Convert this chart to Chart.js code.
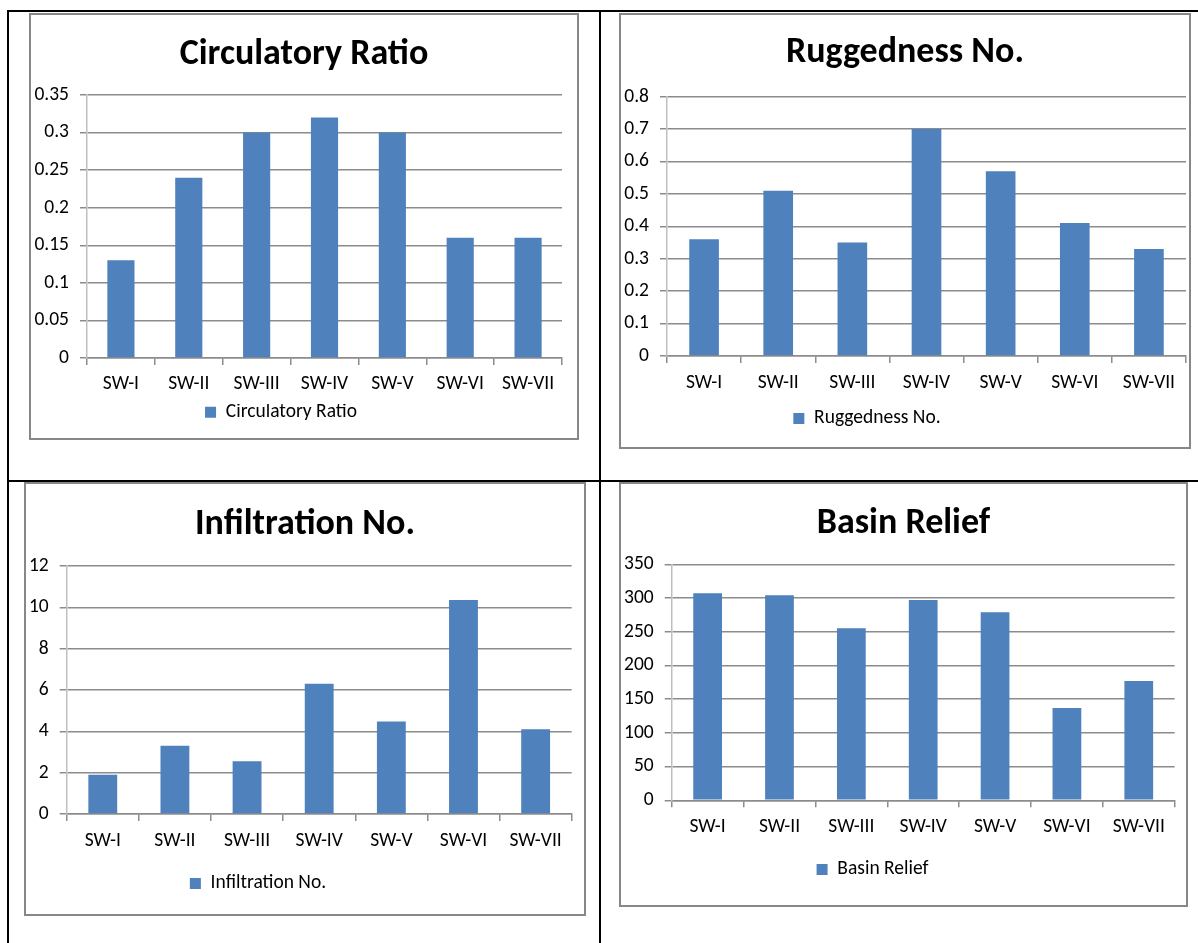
<!DOCTYPE html>
<html lang="en">
<head>
<meta charset="UTF-8">
<title>Sub-watershed Morphometric Parameters</title>
<script src="https://cdn.jsdelivr.net/npm/chart.js"></script>
<style>
  * { margin: 0; padding: 0; box-sizing: border-box; }
  body { width: 1198px; height: 943px; background: #fff; position: relative; overflow: hidden; }
  .rule { position: absolute; background: #000; }
  .box { position: absolute; border: 2px solid #878787; background: #fff; }
  .box canvas { display: block; }
</style>
</head>
<body>
<div class="rule" style="left:7px; top:10px; width:1191px; height:2px;"></div>
<div class="rule" style="left:7px; top:10px; width:2px; height:933px;"></div>
<div class="rule" style="left:599px; top:10px; width:2px; height:933px;"></div>
<div class="rule" style="left:7px; top:480px; width:1191px; height:2px;"></div>

<div class="box" style="left:29px; top:13px; width:550px; height:427px;"><canvas id="circChart"></canvas></div>
<div class="box" style="left:619px; top:13px; width:572px; height:436px;"><canvas id="ruggChart"></canvas></div>
<div class="box" style="left:24px; top:482px; width:562px; height:434px;"><canvas id="infilChart"></canvas></div>
<div class="box" style="left:619px; top:482px; width:569px; height:425px;"><canvas id="reliefChart"></canvas></div>

<script>
    const categories = ['SW-I', 'SW-II', 'SW-III', 'SW-IV', 'SW-V', 'SW-VI', 'SW-VII'];

    const circulatoryRatio = [0.13, 0.24, 0.30, 0.32, 0.30, 0.16, 0.16];
    const ruggednessNo = [0.36, 0.51, 0.35, 0.70, 0.57, 0.41, 0.33];
    const infiltrationNo = [1.9, 3.3, 2.55, 6.3, 4.47, 10.35, 4.1];
    const basinRelief = [307, 304, 255, 297, 279, 137, 177];

    const circulatoryTicks = ['0', '0.05', '0.1', '0.15', '0.2', '0.25', '0.3', '0.35'];
    const ruggednessTicks = ['0', '0.1', '0.2', '0.3', '0.4', '0.5', '0.6', '0.7', '0.8'];
    const infiltrationTicks = ['0', '2', '4', '6', '8', '10', '12'];
    const reliefTicks = ['0', '50', '100', '150', '200', '250', '300', '350'];

    const fontFamily = 'Carlito, Lato, "Open Sans", sans-serif';
    const gridColor = '#8c8c8c';

    // title centred on the whole box, legend moved sideways like in Excel
    const boxShift = {
        id: 'boxShift',
        afterLayout(chart, args, opts) {
            chart.titleBlock.left = 0;
            chart.titleBlock.right = chart.width;
            chart.legend.left = opts.legendDx;
            chart.legend.right = chart.width + opts.legendDx;
        }
    };

    function drawBarChart(id, titleText, values, tickLabels, g) {
        let canvas = document.getElementById(id);
        canvas.width = canvas.parentElement.clientWidth;
        canvas.height = canvas.parentElement.clientHeight;
        let tickFont = { family: fontFamily, size: 19.5, lineHeight: 1 };

        return new Chart(canvas, {
            type: 'bar',
            data: {
                labels: categories,
                datasets: [{
                    label: titleText,
                    data: values,
                    backgroundColor: '#4f81bd',
                    barPercentage: 0.4,
                    categoryPercentage: 1
                }]
            },
            options: {
                responsive: false,
                animation: false,
                layout: { padding: { left: 0, right: g.right, top: 0, bottom: g.bottom } },
                plugins: {
                    title: {
                        display: true,
                        text: titleText,
                        color: '#000',
                        font: { family: fontFamily, size: 36, weight: 'bold', lineHeight: 1.2 },
                        padding: { top: g.titleTop, bottom: g.titleBottom }
                    },
                    legend: {
                        position: 'bottom',
                        labels: {
                            boxWidth: 11,
                            boxHeight: 11,
                            padding: g.legendPad,
                            color: '#000',
                            font: tickFont
                        }
                    },
                    tooltip: { enabled: false },
                    boxShift: { legendDx: g.legendDx }
                },
                scales: {
                    x: {
                        grid: { offset: true, drawOnChartArea: false, tickLength: 7, color: gridColor, lineWidth: 1.5 },
                        border: { color: gridColor, width: 1.5 },
                        ticks: { color: '#000', padding: g.xPad, font: tickFont, maxRotation: 0, autoSkip: false }
                    },
                    y: {
                        min: 0,
                        max: parseFloat(tickLabels[tickLabels.length - 1]),
                        afterFit: scale => { scale.width = g.yWidth; },
                        afterBuildTicks: scale => {
                            scale.ticks = tickLabels.map(t => ({ value: parseFloat(t) }));
                        },
                        grid: { color: gridColor, lineWidth: 1.5, tickLength: 7 },
                        border: { color: '#bfbfbf', width: 1.5 },
                        ticks: {
                            color: '#000',
                            padding: 11,
                            font: tickFont,
                            callback: (value, index) => tickLabels[index]
                        }
                    }
                }
            },
            plugins: [boxShift]
        });
    }

    drawBarChart('circChart', 'Circulatory Ratio', circulatoryRatio, circulatoryTicks,
        { yWidth: 56, right: 15, titleTop: 18.2, titleBottom: 18.6, xPad: 9.75, legendPad: -1.5, bottom: 6, legendDx: -23 });
    drawBarChart('ruggChart', 'Ruggedness No.', ruggednessNo, ruggednessTicks,
        { yWidth: 46, right: 3, titleTop: 16.4, titleBottom: 22.1, xPad: 10.45, legendPad: 5.35, bottom: 8.75, legendDx: -38 });
    drawBarChart('infilChart', 'Infiltration No.', infiltrationNo, infiltrationTicks,
        { yWidth: 40.7, right: 12.3, titleTop: 18.9, titleBottom: 19.9, xPad: 10.45, legendPad: 12.35, bottom: 10.75, legendDx: -47 });
    drawBarChart('reliefChart', 'Basin Relief', basinRelief, reliefTicks,
        { yWidth: 50.7, right: 11.3, titleTop: 18.4, titleBottom: 18.7, xPad: 10.45, legendPad: 12.05, bottom: 15.75, legendDx: -31 });
</script>
</body>
</html>
